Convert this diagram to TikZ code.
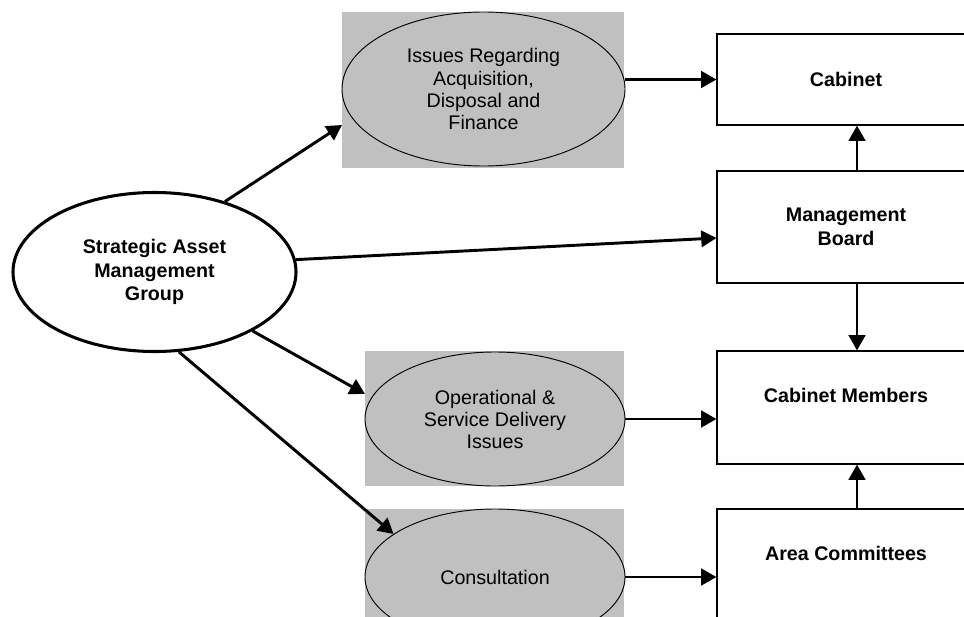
\documentclass[tikz,border=0pt]{standalone}
\usepackage{fontspec}
\setmainfont{Liberation Sans}
\usetikzlibrary{arrows.meta,shapes.geometric}
\definecolor{silver}{RGB}{192,192,192}

\begin{document}
\begin{tikzpicture}[x=0.03cm,y=-0.03cm,
    panel/.style={rectangle,fill=silver,inner sep=0pt,outer sep=0pt},
    topic/.style={ellipse,draw,line width=0.8pt,fill=silver,inner sep=0pt,align=center,
      font=\fontsize{16.8}{18.8}\selectfont},
    body/.style={rectangle,draw,line width=0.9pt,fill=white,minimum width=7.74cm,align=center,
      font=\fontsize{16.8}{20.5}\selectfont\bfseries},
    arr/.style={line width=2.5pt,-{Triangle[length=13pt,width=14pt]}}]
  \clip (0,0) rectangle (964,616);
  \fill[white] (0,0) rectangle (964,616);

  \node[ellipse,draw,line width=2.6pt,fill=white,minimum width=8.49cm,minimum height=4.77cm,
    inner sep=0pt,align=center,font=\fontsize{16.8}{20}\selectfont\bfseries]
    (samg) at (154.5,272) {Strategic Asset\\Management\\Group};

  \node[panel,minimum width=8.46cm,minimum height=4.68cm] (issuesbg) at (483,90) {};
  \node[topic,minimum width=8.49cm,minimum height=4.62cm] (issues) at (483.5,89)
    {Issues Regarding\\Acquisition,\\Disposal and\\Finance};
  \node[panel,minimum width=7.77cm,minimum height=4.05cm] (opsbg) at (494.5,418.5) {};
  \node[topic,minimum width=7.8cm,minimum height=4.02cm] (ops) at (495,419)
    {Operational \&\\Service Delivery\\Issues};
  \node[panel,minimum width=7.77cm,minimum height=4.08cm] (consultbg) at (494.5,577) {};
  \node[topic,minimum width=7.8cm,minimum height=4.08cm] (consult) at (495,577) {Consultation};

  \foreach \n/\y/\h/\t in {cabinet/79.5/91/Cabinet,board/227/112/{Management\\Board},
      members/407.5/113/{Cabinet Members\\\mbox{}},area/565.5/113/{Area Committees\\\mbox{}}}
  {
    \pgfmathsetmacro{\hh}{\h*0.03}
    \node[body,minimum height=\hh cm] (\n) at (846,\y) {\t};
  }

  \draw[arr] (samg.45) -- ([yshift=-1.05cm]issuesbg.west);
  \draw[arr] (samg.5) -- ([yshift=-0.33cm]board.west);
  \draw[arr] (samg.-31) -- ([yshift=0.735cm]opsbg.west);
  \draw[arr] (samg.-73) -- (consult.157);
  \draw[arr] (issues.east |- cabinet.west) -- (cabinet.west);
  \draw[arr] (ops.east) -- (ops.east -| members.west);
  \draw[arr] (consult.east) -- (consult.east -| area.west);
  \draw[arr] ([xshift=0.33cm]board.north) -- ([xshift=0.33cm]cabinet.south);
  \draw[arr] ([xshift=0.33cm]board.south) -- ([xshift=0.33cm]members.north);
  \draw[arr] ([xshift=0.33cm]area.north) -- ([xshift=0.33cm]members.south);
\end{tikzpicture}
\end{document}
